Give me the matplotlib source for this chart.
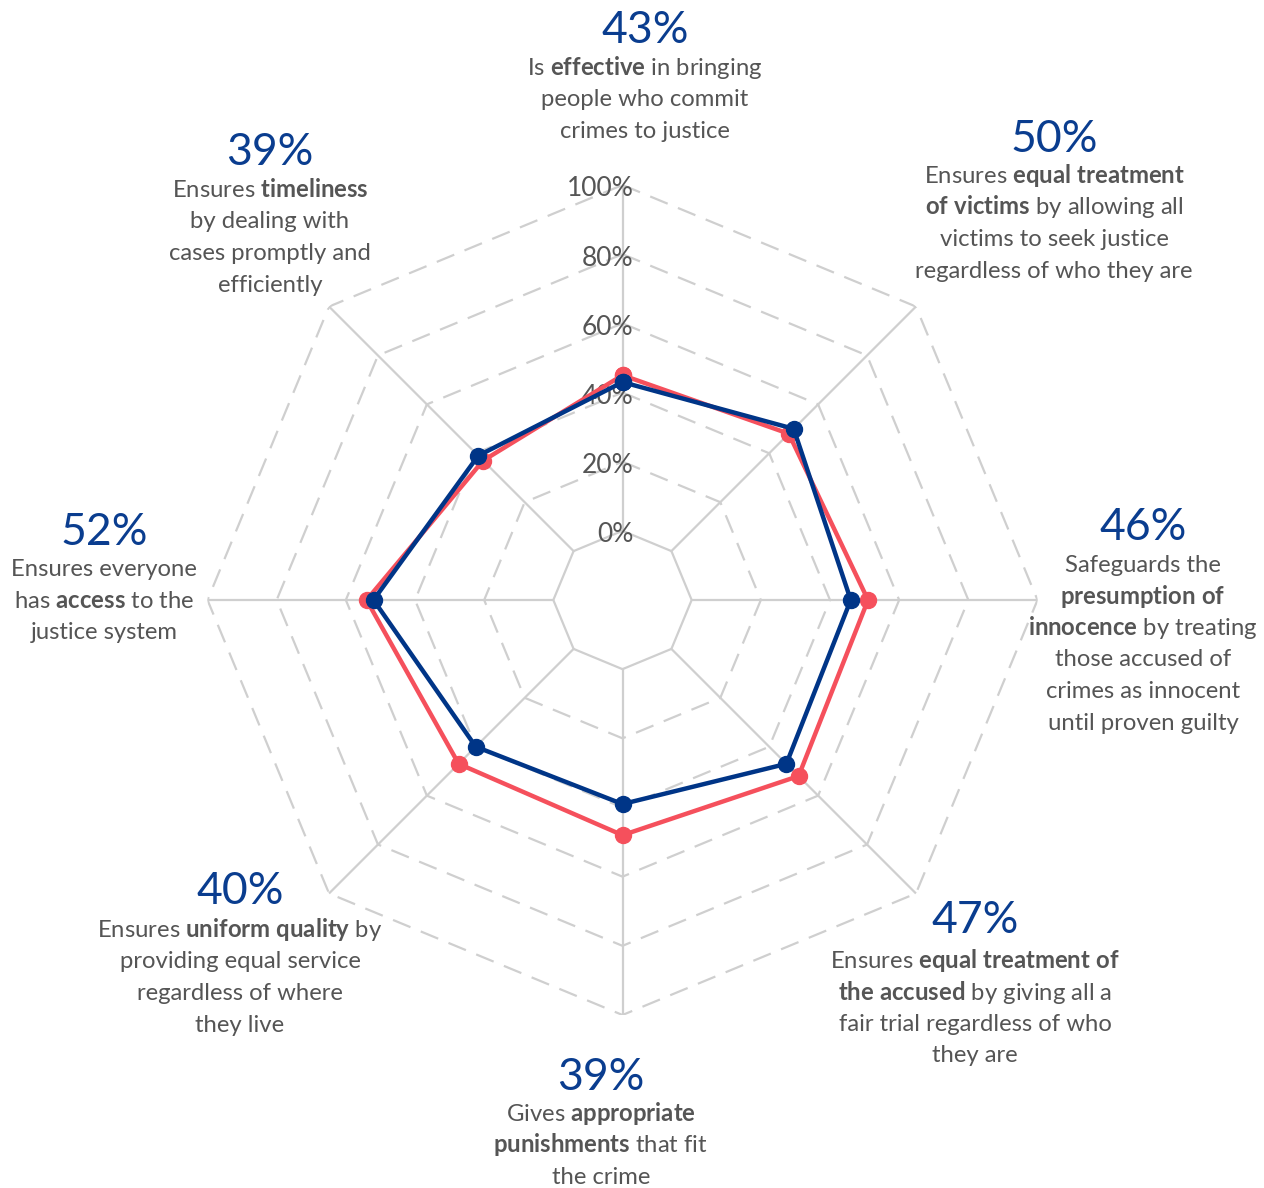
import matplotlib
matplotlib.use("Agg")
import matplotlib.pyplot as plt
import numpy as np

W, H = 1264, 1188
plt.rcParams["font.family"] = ["Lato", "DejaVu Sans"]
plt.rcParams["mathtext.fontset"] = "custom"
plt.rcParams["mathtext.rm"] = "Lato"
plt.rcParams["mathtext.bf"] = "Lato:bold"
plt.rcParams["mathtext.it"] = "Lato:italic"

BLUE = "#003587"
RED = "#f5505c"
GRID = "#cfcfcf"
TEXT = "#555555"
PCT = "#0a3d8f"

# values clockwise from the top axis
blue_values = [43, 50, 46, 47, 39, 40, 52, 39]
red_values = [45, 48, 51, 52, 48, 47, 54, 37]
ring_levels = [0, 20, 40, 60, 80, 100]
ring_labels = ["0%", "20%", "40%", "60%", "80%", "100%"]

descriptions = [
    ["Is $\\mathbf{effective}$ in bringing", "people who commit", "crimes to justice"],
    ["Ensures $\\mathbf{equal\\ treatment}$", "$\\mathbf{of\\ victims}$ by allowing all",
     "victims to seek justice", "regardless of who they are"],
    ["Safeguards the", "$\\mathbf{presumption\\ of}$", "$\\mathbf{innocence}$ by treating",
     "those accused of", "crimes as innocent", "until proven guilty"],
    ["Ensures $\\mathbf{equal\\ treatment\\ of}$", "$\\mathbf{the\\ accused}$ by giving all a",
     "fair trial regardless of who", "they are"],
    ["Gives $\\mathbf{appropriate}$", "$\\mathbf{punishments}$ that fit", "the crime"],
    ["Ensures $\\mathbf{uniform\\ quality}$ by", "providing equal service",
     "regardless of where", "they live"],
    ["Ensures everyone", "has $\\mathbf{access}$ to the", "justice system"],
    ["Ensures $\\mathbf{timeliness}$", "by dealing with", "cases promptly and", "efficiently"],
]

# label block anchors in pixels: (centre x, percent baseline y, first text baseline y)
label_anchor = [
    (645, 43, 75),
    (1054, 152, 183),
    (1143, 540, 572),
    (975, 933, 968),
    (601, 1090, 1121),
    (240, 904, 937),
    (104, 545, 576),
    (270, 165, 197),
]
LINE_STEP = 31.5


def fig_xy(x, y):
    return x / W, 1 - y / H


fig = plt.figure(figsize=(W / 100, H / 100), dpi=100)
cx, cy, R = 622.5, 600, 415
ax = fig.add_axes([(cx - R) / W, (H - cy - R) / H, 2 * R / W, 2 * R / H], projection="polar")
ax.set_theta_zero_location("N")
ax.set_theta_direction(-1)
ax.set_ylim(-20, 100)
ax.axis("off")

n = len(blue_values)
theta = np.linspace(0, 2 * np.pi, n, endpoint=False)
closed = np.append(theta, theta[0])

for level in ring_levels:
    style = "-" if level == 0 else (0, (8.5, 5))
    ax.plot(closed, [level] * (n + 1), color=GRID, lw=1.6, ls=style, zorder=1)
for t in theta:
    ax.plot([t, t], [0, 100], color=GRID, lw=1.6, zorder=1)

for level, lab in zip(ring_levels, ring_labels):
    ax.annotate(lab, (0, level), xytext=(11, -4), textcoords="offset pixels",
                ha="right", va="center", fontsize=19, color=TEXT, zorder=2)

for vals, col in [(red_values, RED), (blue_values, BLUE)]:
    v = np.append(vals, vals[0])
    ax.plot(closed, v, color=col, lw=3.2, marker="o", markersize=11.5, zorder=3, clip_on=False)

for val, lines, (x, yp, yt) in zip(blue_values, descriptions, label_anchor):
    fig.text(*fig_xy(x, yp), f"{val}%", ha="center", va="baseline", fontsize=32, color=PCT)
    for i, line in enumerate(lines):
        fig.text(*fig_xy(x, yt + i * LINE_STEP), line, ha="center", va="baseline",
                 fontsize=17.2, color=TEXT)

fig.savefig("out.png", dpi=100)
